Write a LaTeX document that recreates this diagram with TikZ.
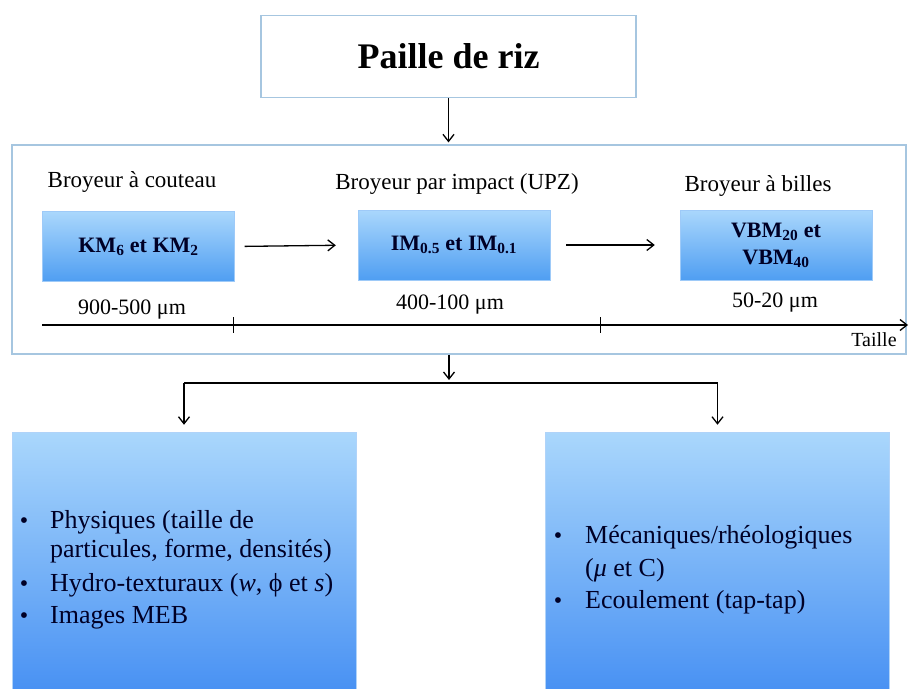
\documentclass[tikz,border=0pt]{standalone}
\usepackage{fontspec}
\setmainfont{Liberation Serif}
\usetikzlibrary{arrows.meta}
\definecolor{bluetop}{HTML}{AAD7FC}
\definecolor{bluebot}{HTML}{4F9EF2}
\definecolor{frameblue}{HTML}{A6C6E0}
\begin{document}
\begin{tikzpicture}[x=1pt,y=-1pt,
  arr/.style={-{Straight Barb[length=7pt,width=11pt,line width=1.3pt]}, line width=1.3pt, black},
  framebox/.style={draw=frameblue, line width=1.2pt, fill=white, inner sep=0pt},
  stepbox/.style={draw=bluebot!55!white, line width=0.4pt, top color=bluetop, bottom color=bluebot,
     minimum width=192pt, minimum height=70pt, inner sep=0pt, align=center,
     font=\fontsize{22}{24}\selectfont\bfseries, text=black!85!blue},
  bigbox/.style={draw=bluebot!45!white, line width=0.5pt, top color=bluetop, bottom color=bluebot!92!blue,
     minimum width=344pt, minimum height=258pt, inner sep=0pt},
  lbl/.style={font=\fontsize{23}{26}\selectfont, inner sep=0pt},
  rng/.style={font=\fontsize{22}{26}\selectfont, inner sep=0pt},
  itm/.style={font=\fontsize{26}{30}\selectfont, anchor=base west, inner sep=0pt, text=black!85!blue},
  bul/.style={font=\fontsize{24}{30}\selectfont, anchor=base, inner sep=0pt, text=black!85!blue}]
\clip (0,0) rectangle (910,688);
\fill[white] (0,0) rectangle (910,688);

% title
\node[framebox, minimum width=375pt, minimum height=82pt, font=\fontsize{36}{40}\selectfont\bfseries]
  (t) at (448.5,56.5) {Paille de riz};

% main frame
\node[framebox, minimum width=894pt, minimum height=209pt] (fr) at (459,249.5) {};

% labels
\node[lbl] (l1) at (132,182) {Broyeur à couteau};
\node[lbl] (l2) at (457,184) {Broyeur par impact (UPZ)};
\node[lbl] (l3) at (758,186) {Broyeur à billes};

% step boxes
\node[stepbox] (b1) at (138.5,246.5) {KM\textsubscript{6} et KM\textsubscript{2}};
\node[stepbox] (b2) at (454,245) {IM\textsubscript{0.5} et IM\textsubscript{0.1}};
\node[stepbox, font=\fontsize{22}{27}\selectfont\bfseries] (b3) at (776,245) {VBM\textsubscript{20} et\\VBM\textsubscript{40}};

\draw[arr, shorten <=10pt, shorten >=22pt] (b1.east) -- (b2.west);
\draw[arr, shorten <=16pt, shorten >=25pt] (b2.east) -- (b3.west);

% ranges
\node[rng] (r1) at (132,310) {900-500 μm};
\node[rng] (r2) at (450,305) {400-100 μm};
\node[rng] (r3) at (775,303) {50-20 μm};

% size axis
\coordinate (a0) at (42,325);
\coordinate (a1) at (908,325);
\draw[arr] (a0) -- (a1);
\draw[line width=1pt] (233,317) -- (233,333);
\draw[line width=1pt] (600,317) -- (600,333);
\node[font=\fontsize{20}{22}\selectfont, inner sep=0pt] (tl) at (874,340) {Taille};

% title to frame
\draw[arr, shorten >=2pt] (t.south) -- (t.south |- fr.north);

% bottom boxes
\node[bigbox] (lb) at (184,561) {};
\node[bigbox] (rb) at (717.5,561) {};

\coordinate (sp) at (449,383);
\coordinate (spe) at (449,380);
\draw[arr] (spe |- fr.south) -- (spe);
\draw[line width=1.3pt] (lb.north |- sp) -- (rb.north |- sp);
\draw[arr, shorten >=7pt] (lb.north |- sp) -- (lb.north);
\draw[arr, shorten >=7pt] (rb.north |- sp) -- (rb.north);

% left list
\node[bul] (p1) at (24,528) {•};
\node[itm] (t1) at (50,528) {Physiques (taille de};
\node[itm] (t2) at (50,557) {particules, forme, densités)};
\node[bul] (p3) at (24,591) {•};
\node[itm] (t3) at (50,591) {Hydro-texturaux (\textit{w}, ϕ et \textit{s})};
\node[bul] (p4) at (24,623) {•};
\node[itm] (t4) at (50,623) {Images MEB};

% right list
\node[bul] (q1) at (558,543) {•};
\node[itm] (u1) at (585,543) {Mécaniques/rhéologiques};
\node[itm] (u2) at (585,576) {(\textit{μ} et C)};
\node[bul] (q3) at (558,608) {•};
\node[itm] (u3) at (585,608) {Ecoulement (tap-tap)};
\end{tikzpicture}
\end{document}
